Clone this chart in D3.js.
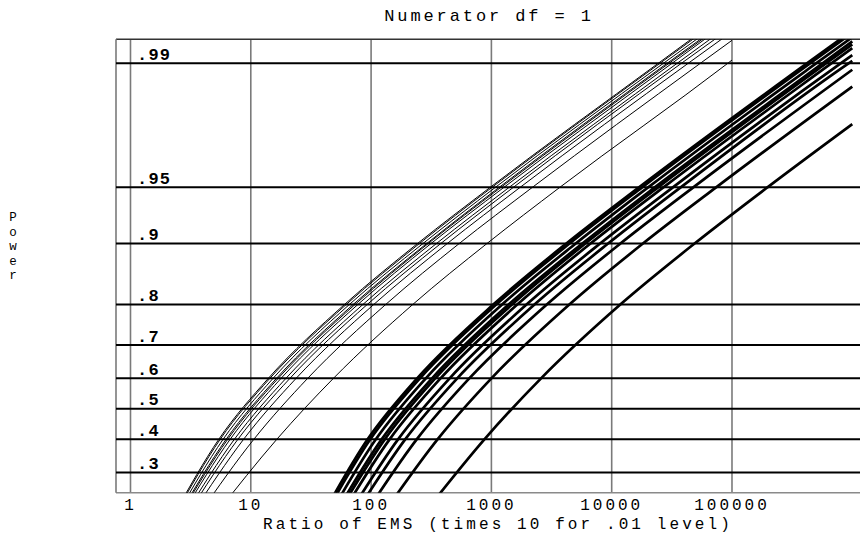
<!DOCTYPE html>
<html>
<head>
<meta charset="utf-8">
<script src="https://cdn.jsdelivr.net/npm/d3@7"></script>
<style>
  html, body { margin: 0; padding: 0; background: #fff; }
  svg { display: block; }
  text { font-family: "Liberation Mono", "Courier New", monospace; fill: #000; }
</style>
</head>
<body>
<svg id="chart" width="860" height="541"></svg>
<script>
// ---------------- data ----------------
const titleText = "Numerator df = 1";
const xTitle = "Ratio of EMS (times 10 for .01 level)";
const yTitle = "Power";

const xTickValues = [1, 10, 100, 1000, 10000, 100000];
const xTickLabels = ["1", "10", "100", "1000", "10000", "100000"];

const powerLines  = [0.3, 0.4, 0.5, 0.6, 0.7, 0.8, 0.9, 0.95, 0.99];
const powerLabels = [".3", ".4", ".5", ".6", ".7", ".8", ".9", ".95", ".99"];

// denominator df of each curve
const denomDf = ["2", "3", "4", "5", "6", "8", "10", "12", "20", "60", "inf"];

// power levels at which each curve's ratio is read
const curvePower = [0.2, 0.4, 0.6, 0.8, 0.9, 0.95, 0.99];

// .05 level (thin curves): ratio of EMS at each curvePower level
const ratio05 = [
  [5.204, 16.44, 48.62, 221.6, 918, 3703, 92577],
  [3.776, 10.59, 29.70, 132.0, 539.7, 2191, 54757],
  [3.281, 8.707, 23.81, 105.0, 429.4, 1733, 43388],
  [3.034, 7.810, 21.15, 92.72, 379.4, 1522, 38109],
  [2.889, 7.298, 19.59, 85.30, 349.0, 1405, 35119],
  [2.726, 6.731, 17.85, 77.50, 314.8, 1271, 31822],
  [2.635, 6.420, 16.88, 73.37, 298.1, 1200, 30038],
  [2.583, 6.233, 16.35, 70.81, 289.9, 1160, 28992],
  [2.478, 5.882, 15.31, 65.86, 269.7, 1079, 27012],
  [2.382, 5.562, 14.40, 62.00, 252.0, 1011, 25275],
  [2.336, 5.416, 13.98, 59.99, 243.0, 976.8, 24459]
];
const end05Ratio = 100000;
const end05Power = [0.9904, 0.9926, 0.9934, 0.9938, 0.9941, 0.9944, 0.9945, 0.9946, 0.9948, 0.9950, 0.9951];

// .01 level (thick curves): axis value (times 10) at each curvePower level
const ratio01 = [
  [276.9, 874.8, 2587, 11791, 48847, 197037, null],
  [127.2, 356.7, 1000.3, 4446, 18177, 73793, null],
  [90.23, 239.4, 654.8, 2888, 11809, 47658, null],
  [74.64, 192.1, 520.3, 2281, 9333, 37441, 937481],
  [66.30, 167.5, 449.6, 1958, 8010, 32245, 805981],
  [57.71, 142.5, 377.9, 1641, 6664, 26907, 673672],
  [53.33, 129.9, 341.7, 1485, 6034, 24288, 607969],
  [50.73, 122.4, 321.1, 1391, 5694, 22782, 569403],
  [46.14, 109.5, 285.1, 1226, 5022, 20091, 502963],
  [42.16, 98.45, 254.9, 1097, 4460, 17895, 447368],
  [40.34, 93.53, 241.4, 1036, 4197, 16869, 422407]
];
const end01Ratio = 1000000;
const end01Power = [0.9778, 0.9864, 0.9891, 0.9903, 0.9910, 0.9918, 0.9922, 0.9925, 0.9929, 0.9933, 0.9935];

// ---------------- layout ----------------
const svg = d3.select("#chart");
const plotLeft = 116, plotRight = 860, plotTop = 39.3, plotBottom = 492.7;
const xDomainMin = 0.7577, xDomainMax = 1.159e6;
const pBottom = 0.247, pTop = 0.9927;

const logit = p => Math.log(p / (1 - p));
const x = d3.scaleLog().domain([xDomainMin, xDomainMax]).range([plotLeft, plotRight]);
const yLin = d3.scaleLinear().domain([logit(pBottom), logit(pTop)]).range([plotBottom, plotTop]);
const y = p => yLin(logit(p));

svg.append("defs").append("clipPath").attr("id", "plotclip")
  .append("rect").attr("x", plotLeft).attr("y", plotTop)
  .attr("width", plotRight - plotLeft).attr("height", plotBottom - plotTop);

// vertical grid lines
svg.append("g").selectAll("line").data(xTickValues).join("line")
  .attr("x1", d => x(d)).attr("x2", d => x(d))
  .attr("y1", plotTop).attr("y2", plotBottom)
  .attr("stroke", "#7a7a7a").attr("stroke-width", 1.6);

// frame
svg.append("line").attr("x1", plotLeft).attr("x2", plotRight).attr("y1", plotTop).attr("y2", plotTop)
  .attr("stroke", "#333").attr("stroke-width", 1.4);
svg.append("line").attr("x1", plotLeft).attr("x2", plotRight).attr("y1", plotBottom).attr("y2", plotBottom)
  .attr("stroke", "#8a8a8a").attr("stroke-width", 1.6);
svg.append("line").attr("x1", plotLeft).attr("x2", plotLeft).attr("y1", plotTop).attr("y2", plotBottom)
  .attr("stroke", "#7a7a7a").attr("stroke-width", 1.6);

// horizontal power lines
svg.append("g").selectAll("line").data(powerLines).join("line")
  .attr("x1", plotLeft).attr("x2", plotRight)
  .attr("y1", d => y(d)).attr("y2", d => y(d))
  .attr("stroke", "#000").attr("stroke-width", 2);

svg.append("g").selectAll("text").data(powerLines).join("text")
  .attr("x", 137).attr("y", d => y(d) - 3.5)
  .attr("font-size", 17).attr("font-weight", "bold").attr("letter-spacing", 1.2)
  .text((d, i) => powerLabels[i]);

// curves
const line = d3.line().x(d => x(d[0])).y(d => y(d[1])).curve(d3.curveMonotoneX);
function pts(row, endRatio, endPower) {
  const out = [];
  row.forEach((r, i) => { if (r !== null) out.push([r, curvePower[i]]); });
  out.push([endRatio, endPower]);
  return out;
}
const gCurves = svg.append("g").attr("clip-path", "url(#plotclip)");
gCurves.selectAll("path.thin").data(ratio05).join("path").attr("class", "thin")
  .attr("d", (row, i) => line(pts(row, end05Ratio, end05Power[i])))
  .attr("fill", "none").attr("stroke", "#000").attr("stroke-width", 1);
gCurves.selectAll("path.thick").data(ratio01).join("path").attr("class", "thick")
  .attr("d", (row, i) => line(pts(row, end01Ratio, end01Power[i])))
  .attr("fill", "none").attr("stroke", "#000").attr("stroke-width", 2.7);

// x tick labels
svg.append("g").selectAll("text").data(xTickValues).join("text")
  .attr("x", d => x(d)).attr("y", 510)
  .attr("text-anchor", "middle").attr("font-size", 16).attr("letter-spacing", 3)
  .text((d, i) => xTickLabels[i]);

// titles
svg.append("text").attr("x", 489).attr("y", 21).attr("text-anchor", "middle")
  .attr("font-size", 17).attr("letter-spacing", 2.9).text(titleText);
svg.append("text").attr("x", 498).attr("y", 528.5).attr("text-anchor", "middle")
  .attr("font-size", 16).attr("letter-spacing", 3.1).text(xTitle);

svg.append("g").selectAll("text").data(yTitle.split("")).join("text")
  .attr("x", 13).attr("y", (d, i) => 221 + i * 14.6)
  .attr("text-anchor", "middle").attr("font-size", 12.5)
  .text(d => d);
</script>
</body>
</html>
